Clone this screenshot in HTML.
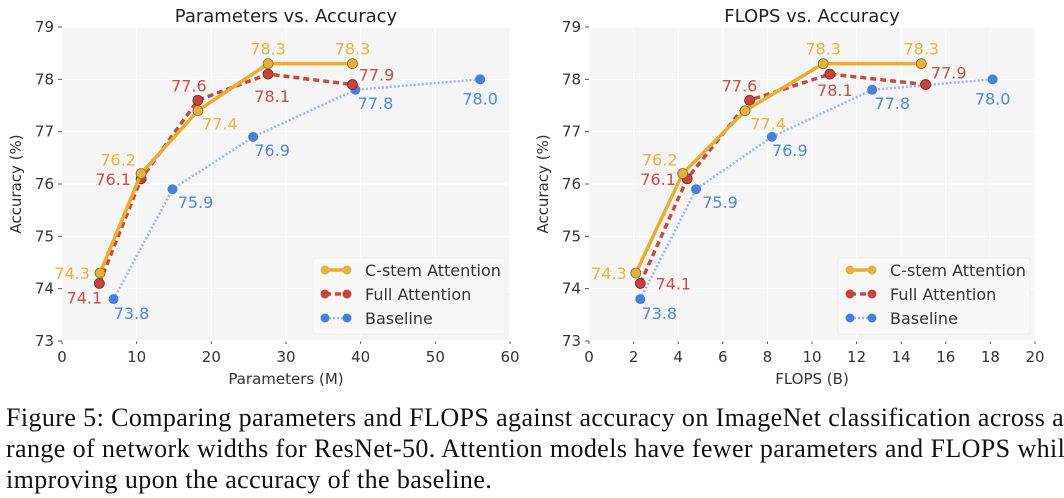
<!DOCTYPE html>
<html><head><meta charset="utf-8"><style>
body{margin:0;background:#fff;width:1064px;height:498px;overflow:hidden}
#cap{position:absolute;left:6px;top:402px;font-family:"Liberation Serif",serif;font-size:26px;line-height:31px;color:#111;white-space:nowrap;letter-spacing:0.4px}
</style></head><body>
<svg id="chart" width="1064" height="400" style="position:absolute;left:0;top:0" font-family="DejaVu Sans, Liberation Sans, sans-serif"></svg>
<div id="cap">Figure 5: Comparing parameters and FLOPS against accuracy on ImageNet classification across a<br>range of network widths for ResNet-50. Attention models have fewer parameters and FLOPS while<br>improving upon the accuracy of the baseline.</div>
<script>
const seriesNames=["C-stem Attention","Full Attention","Baseline"];
const leftCstemX=[5.1,10.6,18.2,27.6,38.9];
const leftCstemY=[74.3,76.2,77.4,78.3,78.3];
const leftFullX=[5.0,10.6,18.2,27.6,38.9];
const leftFullY=[74.1,76.1,77.6,78.1,77.9];
const leftBaseX=[6.9,14.8,25.6,39.3,56.0];
const leftBaseY=[73.8,75.9,76.9,77.8,78.0];
const rightCstemX=[2.1,4.2,7.0,10.5,14.9];
const rightCstemY=[74.3,76.2,77.4,78.3,78.3];
const rightFullX=[2.3,4.4,7.2,10.8,15.1];
const rightFullY=[74.1,76.1,77.6,78.1,77.9];
const rightBaseX=[2.3,4.8,8.2,12.7,18.1];
const rightBaseY=[73.8,75.9,76.9,77.8,78.0];
const yTicks=[73,74,75,76,77,78,79];
const leftXTicks=[0,10,20,30,40,50,60];
const rightXTicks=[0,2,4,6,8,10,12,14,16,18,20];

const NS="http://www.w3.org/2000/svg";
const svg=document.getElementById('chart');
const colors=["#E8AE2E","#CC4A3C","#4C84DC"];
const dots=["#E3B042","#C8433A","#4A80DC"];
const txt=["#E9B540","#CF4F45","#5288E0"];
function mk(tag,attrs,parent){const e=document.createElementNS(NS,tag);for(const k in attrs)e.setAttribute(k,attrs[k]);(parent||svg).appendChild(e);return e;}
const offL=[[[-28,0],[-23,-14],[22,13],[0,-15],[0,-15]],[[-15,14],[-28,0],[-9,-15],[4,22],[24,-10]],[[18,14],[23,13],[19,13],[20,13],[0,19]]];
const offR=[[[-27,0],[-23,-14],[23,13],[0,-15],[0,-15]],[[33,0],[-29,0],[-10,-15],[5,16],[23,-12]],[[19,14],[24,13],[18,13],[20,13],[0,19]]];
function plot(cfg){
  const g=mk('g',{});
  
  
  const {x0,x1,xmax,ticks}=cfg, y0=341,y1=27;
  const sx=v=>x0+v/xmax*(x1-x0), sy=v=>y0-(v-73)/6*(y0-y1);
  mk('rect',{x:x0,y:y1,width:x1-x0,height:y0-y1,fill:'#F5F5F5'},g);
  ticks.forEach(t=>{mk('line',{x1:sx(t),x2:sx(t),y1:y1,y2:y0,stroke:'#fff','stroke-width':1},g);
    const l=mk('text',{x:sx(t),y:y0+21,'text-anchor':'middle','font-size':15,fill:'#333'},g);l.textContent=t;
    
    mk('line',{x1:sx(t),x2:sx(t),y1:y0,y2:y0+3,stroke:'#555'},g);});
  yTicks.forEach(t=>{mk('line',{x1:x0,x2:x1,y1:sy(t),y2:sy(t),stroke:'#fff','stroke-width':1},g);
    const l=mk('text',{x:x0-8,y:sy(t)+5,'text-anchor':'end','font-size':15,fill:'#333'},g);l.textContent=t;
    
    mk('line',{x1:x0-4,x2:x0,y1:sy(t),y2:sy(t),stroke:'#555'},g);});
  const tt=mk('text',{x:(x0+x1)/2,y:22,'text-anchor':'middle','font-size':18,fill:'#222'},g);tt.textContent=cfg.title;
  
  const xt=mk('text',{x:(x0+x1)/2,y:384,'text-anchor':'middle','font-size':15,fill:'#333'},g);xt.textContent=cfg.xlabel;
  
  const yt=mk('text',{x:0,y:0,'text-anchor':'middle','font-size':15,fill:'#333',transform:`translate(${x0-41},${(y0+y1)/2}) rotate(-90)`},g);yt.textContent='Accuracy (%)';
  
  const dash=['none','6 4','2 2'], widths=[3.5,3.5,2.5];
  [2,1,0].forEach(s=>{
    const xs=cfg.series[s][0], ys=cfg.series[s][1];
    const pts=xs.map((v,i)=>sx(v)+','+sy(ys[i])).join(' ');
    const pl=mk('polyline',{points:pts,fill:'none',stroke:s==2?'#9DB8EA':colors[s],'stroke-width':widths[s],'stroke-dasharray':dash[s]},g);
    
    xs.forEach((v,i)=>{const c=mk('circle',{cx:sx(v),cy:sy(ys[i]),r:5,fill:dots[s],stroke:s==0?'#8a6a20':'#7a2a22','stroke-width':s==2?0:0.8},g);
      
      const o=cfg.off[s][i];
      const l=mk('text',{x:sx(v)+o[0],y:sy(ys[i])+o[1]+6,'text-anchor':'middle','font-size':16,fill:txt[s]},g);
      l.textContent=ys[i].toFixed(1);
      });
  });
  const lx=cfg.legX;
  const lg=mk('g',{},g);
  
  mk('rect',{x:lx,y:258,width:cfg.legW,height:76,fill:'#F8F8F8',stroke:'#eee',rx:3},lg);
  seriesNames.forEach((n,s)=>{const y=270+s*24;
    mk('line',{x1:lx+12,x2:lx+34,y1:y,y2:y,stroke:s==2?'#9DB8EA':colors[s],'stroke-width':widths[s],'stroke-dasharray':dash[s]},lg);
    mk('circle',{cx:lx+12,cy:y,r:4.5,fill:dots[s]},lg);mk('circle',{cx:lx+34,cy:y,r:4.5,fill:dots[s]},lg);
    const t=mk('text',{x:lx+52,y:y+6,'font-size':16,fill:'#333'},lg);t.textContent=n;
    });
}
plot({name:'params-chart',x0:62,x1:510,xmax:60,ticks:leftXTicks,title:'Parameters vs. Accuracy',xlabel:'Parameters (M)',
  series:[[leftCstemX,leftCstemY],[leftFullX,leftFullY],[leftBaseX,leftBaseY]],off:offL,legX:313,legW:192});
plot({name:'flops-chart',x0:589,x1:1035,xmax:20,ticks:rightXTicks,title:'FLOPS vs. Accuracy',xlabel:'FLOPS (B)',
  series:[[rightCstemX,rightCstemY],[rightFullX,rightFullY],[rightBaseX,rightBaseY]],off:offR,legX:838,legW:192});
</script>
</body></html>
